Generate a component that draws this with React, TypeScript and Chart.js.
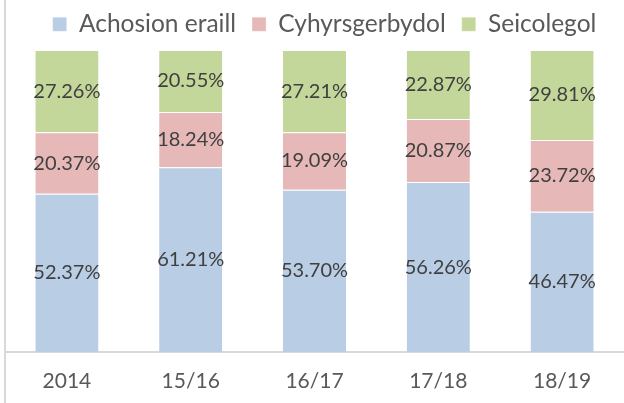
import React, { useEffect, useRef } from "react";
import { Chart, registerables } from "chart.js";

Chart.register(...registerables);

const categories = ["2014", "15/16", "16/17", "17/18", "18/19"];
const seriesNames = ["Achosion eraill", "Cyhyrsgerbydol", "Seicolegol"];
const achosionEraill = [52.37, 61.21, 53.7, 56.26, 46.47];
const cyhyrsgerbydol = [20.37, 18.24, 19.09, 20.87, 23.72];
const seicolegol = [27.26, 20.55, 27.21, 22.87, 29.81];
const colors = ["#B9CDE5", "#E6B9B8", "#C4D79B"];

const FONT = "Lato, 'Open Sans', sans-serif";

const labelPlugin = {
  id: "segLabels",
  afterDatasetsDraw(chart: any) {
    const ctx = chart.ctx;
    ctx.save();
    ctx.font = `20px ${FONT}`;
    ctx.fillStyle = "#404040";
    ctx.textAlign = "center";
    ctx.textBaseline = "middle";
    chart.data.datasets.forEach((ds: any, di: number) => {
      const meta = chart.getDatasetMeta(di);
      meta.data.forEach((bar: any, i: number) => {
        const v = ds.data[i] as number;
        const cy = (bar.y + bar.base) / 2;
        ctx.fillText(v.toFixed(2) + "%", bar.x, cy);
      });
    });
    ctx.restore();
  },
};

const legendTweak = {
  id: "legendTweak",
  beforeInit(chart: any) {
    const legend = chart.legend;
    const fit = legend.fit;
    legend.fit = function () {
      fit.call(legend);
      legend.height -= 0.5;
    };
    const draw = legend.draw;
    legend.draw = function () {
      const ctx = chart.ctx;
      ctx.save();
      ctx.translate(10, -4);
      draw.call(legend);
      ctx.restore();
    };
  },
};

export default function App() {
  const ref = useRef<HTMLCanvasElement | null>(null);
  useEffect(() => {
    if (!ref.current) return;
    const chart = new Chart(ref.current, {
      type: "bar",
      data: {
        labels: categories,
        datasets: [achosionEraill, cyhyrsgerbydol, seicolegol].map((d, i) => ({
          label: seriesNames[i],
          data: d,
          backgroundColor: colors[i],
          borderColor: "#FFFFFF",
          borderWidth: { top: 1, left: 0, right: 0, bottom: 0 },
          borderSkipped: false,
          categoryPercentage: 1,
          barPercentage: 0.51,
        })),
      },
      options: {
        animation: false,
        responsive: false,
        maintainAspectRatio: false,
        layout: { padding: { left: 5, right: 0, top: 0, bottom: 0 } },
        plugins: {
          tooltip: { enabled: false },
          legend: {
            position: "top",
            labels: {
              font: { family: FONT, size: 24.5 },
              color: "#595959",
              boxWidth: 14,
              boxHeight: 14,
              padding: 16,
            },
          },
        },
        scales: {
          x: {
            stacked: true,
            grid: { display: false, drawTicks: false },
            border: { display: true, color: "#D9D9D9", width: 2 },
            ticks: { color: "#595959", font: { family: FONT, size: 21 }, padding: 17 },
            afterFit: (s: any) => {
              s.height = 51;
            },
          },
          y: {
            stacked: true,
            display: false,
            min: 0,
            max: 100,
          },
        },
      },
      plugins: [labelPlugin, legendTweak],
    });
    return () => chart.destroy();
  }, []);
  return (
    <div style={{ position: "absolute", left: 0, top: 0, width: 624, height: 403, background: "#fff" }}>
      <canvas ref={ref} width={624} height={403} style={{ display: "block" }} />
      <div style={{ position: "absolute", left: 4, top: 0, width: 2, height: 403, background: "#D9D9D9" }} />
    </div>
  );
}
